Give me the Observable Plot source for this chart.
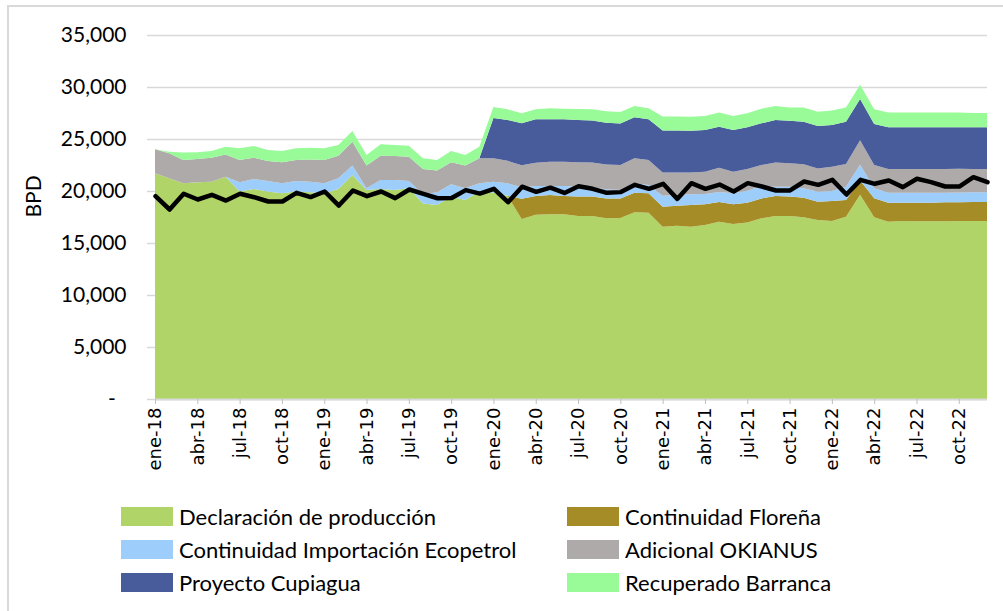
<!DOCTYPE html>
<html>
<head>
<meta charset="utf-8">
<script src="https://cdn.jsdelivr.net/npm/d3@7"></script>
<script src="https://cdn.jsdelivr.net/npm/@observablehq/plot@0.6"></script>
<style>
  html, body { margin: 0; padding: 0; background: #fff; }
  body { width: 1003px; height: 611px; overflow: hidden; position: relative; font-family: Lato, "Open Sans", sans-serif; }
  #frame { position: absolute; left: 7px; top: 5px; width: 1300px; height: 900px; border: 2px solid #d9d9d9; box-sizing: border-box; }
  #chart { position: absolute; left: 0; top: 0; }
  #legend { position: absolute; left: 121px; top: 500px; display: grid; grid-template-columns: 446px auto; }
  .item { display: flex; align-items: center; height: 33px; font-size: 22px; color: #000; white-space: nowrap; }
  .sw { width: 52px; height: 19px; margin-right: 6px; flex: none; }
</style>
</head>
<body>
<div id="frame"></div>
<div id="chart"></div>
<div id="legend"></div>
<script>
// ---- data ----
const meses = ["ene","feb","mar","abr","may","jun","jul","ago","sep","oct","nov","dic"];
const anios = ["18","19","20","21","22"];
const etiquetas = anios.flatMap(a => meses.map(m => `${m}-${a}`));

const series = [
  "Declaración de producción",
  "Continuidad Floreña",
  "Continuidad Importación Ecopetrol",
  "Adicional OKIANUS",
  "Proyecto Cupiagua",
  "Recuperado Barranca"
];
const colores = ["#b0d468", "#a58c26", "#9ccdfb", "#aeaaaa", "#485c9c", "#98fb98"];

const declaracion = [21700,21220,20740,20830,20900,21380,19940,20190,19940,19780,
  19940,19870,19780,20190,21540,20100,20190,20100,20260,18810,
  18650,19450,19140,19940,19820,19540,17300,17720,17760,17760,
  17600,17600,17370,17400,17950,17920,16570,16670,16570,16730,
  17050,16830,16960,17370,17600,17600,17470,17210,17120,17530,
  19650,17470,17050,17120,17080,17080,17080,17120,17120,17120];
const florena = [0,0,0,0,0,0,0,0,0,0,
  0,0,0,0,0,0,0,0,0,0,
  0,0,0,0,0,0,1950,1810,1860,1760,
  1860,1860,1920,1890,1890,1860,1920,1920,2080,1990,
  1890,1890,1920,1920,1920,1860,1890,1760,1920,1600,
  1350,1830,1830,1760,1800,1800,1830,1800,1830,1830];
const importacion = [0,0,0,0,0,0,890,960,1020,960,
  1020,1030,960,1030,900,160,870,960,700,870,
  1220,1190,1120,800,1080,1200,1100,950,860,960,
  960,870,870,800,900,800,1050,1030,1030,990,
  960,1060,1150,1190,900,960,900,960,960,1280,
  1530,960,960,960,960,960,930,930,930,930];
const okianus = [2320,2400,2240,2250,2300,2140,2150,2050,1920,2020,
  2020,2140,2240,2180,2300,2180,2340,2300,2340,2440,
  2090,2120,2180,2400,2240,2160,2130,2240,2340,2340,
  2340,2400,2400,2400,2400,2400,2230,2150,2110,2150,
  2340,2080,2080,2020,2310,2240,2310,2240,2340,2180,
  2340,2240,2280,2280,2280,2280,2280,2280,2240,2240];
const cupiagua = [0,0,0,0,0,0,0,0,0,0,
  0,0,0,0,0,0,0,0,0,0,
  0,0,0,0,3880,3930,4030,4170,4070,4070,
  4070,4040,4010,4010,3940,3910,4040,4040,4010,4010,
  3940,4010,4010,4010,4100,4100,4100,4070,4010,4070,
  3970,3940,4010,4010,4010,4010,4010,4010,4010,4010];
const barranca = [0,160,710,640,650,740,1120,1130,1060,1090,
  1120,1130,1120,1020,1030,1020,1090,1060,1060,1020,
  1020,1090,1020,1120,1060,1020,970,960,1060,1030,
  1060,1090,1090,1090,1090,1060,1350,1350,1350,1350,
  1380,1350,1350,1410,1350,1280,1350,1380,1380,1380,
  1380,1410,1410,1410,1410,1410,1410,1410,1380,1380];
const linea = [19550,18270,19780,19230,19680,19130,19780,19450,19040,19040,
  19870,19460,20000,18650,20100,19550,20000,19360,20190,19780,
  19350,19370,20130,19800,20260,18970,20460,19970,20370,19860,
  20510,20260,19870,19940,20640,20260,20740,19290,20800,20260,
  20670,20000,20800,20480,20100,20100,20960,20640,21120,19710,
  21120,20740,21060,20420,21220,20900,20480,20480,21380,20900];

const yTicks = [0,5000,10000,15000,20000,25000,30000,35000];
const xTicks = [0,3,6,9,12,15,18,21,24,27,30,33,36,39,42,45,48,51,54,57];

// ---- build tables ----
const valores = [declaracion, florena, importacion, okianus, cupiagua, barranca];
const tabla = series.flatMap((s, k) => valores[k].map((v, i) => ({i, serie: s, v})));
const tablaLinea = linea.map((v, i) => ({i, v}));

const chart = Plot.plot({
  width: 1003,
  height: 490,
  marginLeft: 155,
  marginRight: 16,
  marginTop: 35,
  marginBottom: 91,
  x: {domain: [0, 59], axis: null, label: null},
  y: {domain: [0, 35000], axis: null, label: null},
  color: {domain: series, range: colores},
  style: {fontFamily: "Lato, 'Open Sans', sans-serif", background: "transparent", color: "#000", overflow: "visible"},
  marks: [
    Plot.ruleY(yTicks, {stroke: "#d9d9d9", strokeWidth: 1.5, insetLeft: -8}),
    Plot.areaY(tabla, {x: "i", y: "v", fill: "serie", order: series, curve: "linear"}),
    Plot.line(tablaLinea, {x: "i", y: "v", stroke: "#000", strokeWidth: 4.5, strokeLinejoin: "round"}),
    Plot.ruleY([0], {stroke: "#d9d9d9", strokeWidth: 2}),
    Plot.axisX({ticks: xTicks, tickFormat: i => etiquetas[i], tickRotate: -90, tickSize: 5, tickPadding: 3,
      stroke: "#bfbfbf", fill: "#000", fontSize: 18, fontFamily: "DejaVu Sans", label: null}),
    Plot.axisY({ticks: yTicks, tickFormat: d => d === 0 ? "-\u00a0\u00a0" : d3.format(",")(d),
      tickSize: 0, tickPadding: 29, fontSize: 21, fill: "#000", label: null}),
    Plot.text(["BPD"], {frameAnchor: "left", dx: -121, rotate: -90, fontSize: 21, fill: "#000"})
  ]
});
document.getElementById("chart").appendChild(chart);

const legend = document.getElementById("legend");
series.forEach((s, k) => {
  const it = document.createElement("div");
  it.className = "item";
  const sw = document.createElement("span");
  sw.className = "sw";
  sw.style.background = colores[k];
  const t = document.createElement("span");
  t.textContent = s;
  it.appendChild(sw);
  it.appendChild(t);
  legend.appendChild(it);
});
</script>
</body>
</html>
